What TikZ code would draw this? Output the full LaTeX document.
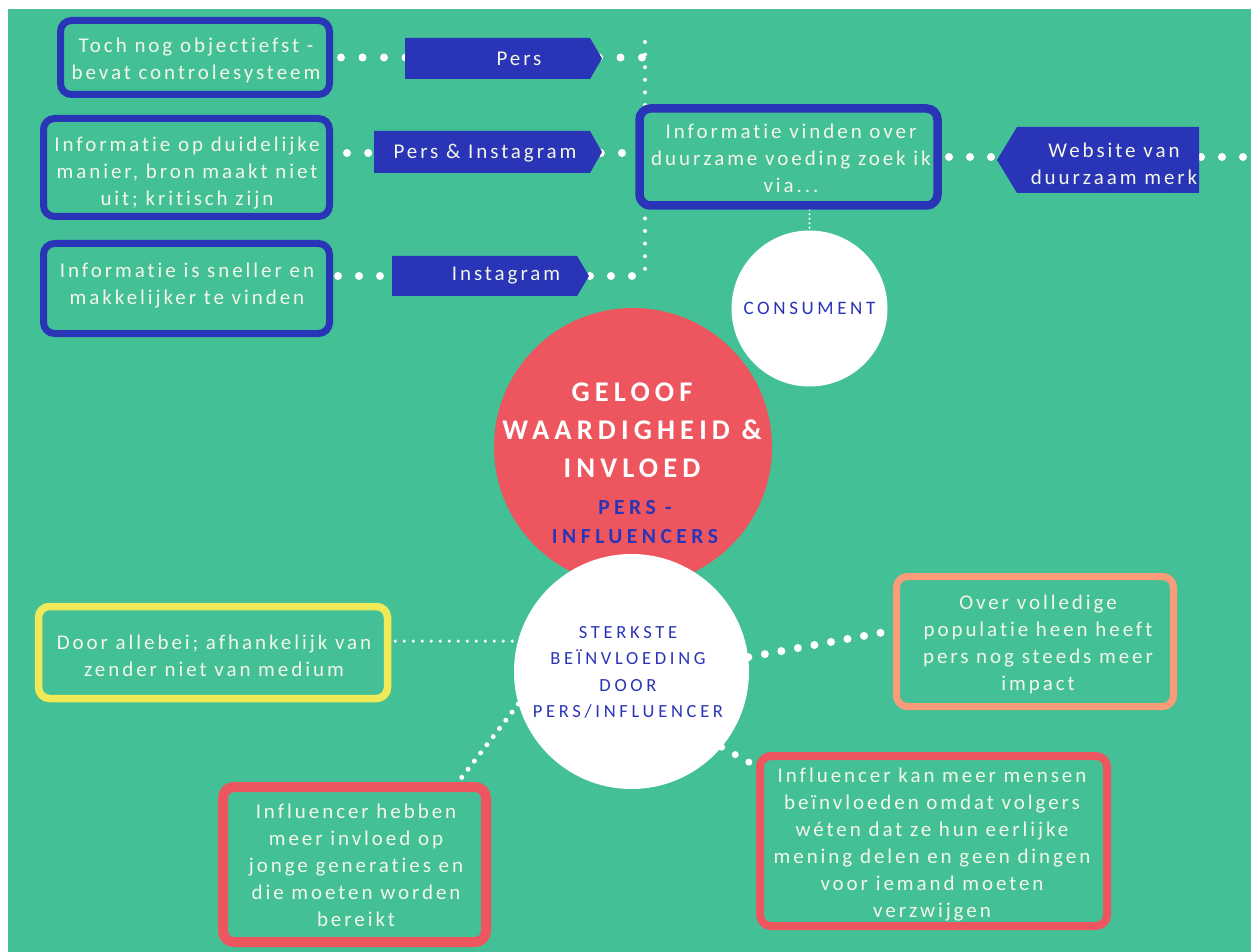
\documentclass[tikz,border=0pt]{standalone}
\usepackage{fontspec}
\setmainfont{Carlito}[Ligatures=CommonOff]
\usetikzlibrary{calc}
\newfontfamily\spacedfont[LetterSpace=14,Ligatures=CommonOff]{Carlito}
\newfontfamily\widefont[LetterSpace=20,Ligatures=CommonOff]{Carlito}
\newfontfamily\titlefont[LetterSpace=18,Ligatures=CommonOff]{Carlito}
\newfontfamily\subfont[LetterSpace=21,Ligatures=CommonOff]{Carlito}
\newfontfamily\consfont[LetterSpace=19,Ligatures=CommonOff]{Carlito}

\definecolor{bggreen}{RGB}{67,192,150}
\definecolor{navy}{RGB}{42,52,183}
\definecolor{coral}{RGB}{238,86,95}
\definecolor{lemon}{RGB}{240,233,88}
\definecolor{salmon}{RGB}{250,156,121}
\definecolor{cream}{RGB}{243,247,232}

\pgfdeclarelayer{bg}
\pgfdeclarelayer{links}
\pgfsetlayers{bg,links,main}

\tikzset{
  infobox/.style={draw, line width=7pt, rounded corners=11pt, fill=bggreen, inner sep=0pt},
  boxtext/.style={text=cream, align=center, inner sep=0pt,
    font={\spacedfont\fontsize{21}{27}\selectfont}},
  tab/.style={fill=navy},
  bigdots/.style={draw=white, line width=8pt, line cap=round, dash pattern=on 0pt off 21pt},
  middots/.style={draw=white, line width=5pt, line cap=round, dash pattern=on 0pt off 10.3pt},
  smalldots/.style={draw=white, line width=4pt, line cap=round, dash pattern=on 0pt off 12.6pt},
  finedots/.style={draw=white, line width=3.5pt, line cap=round, dash pattern=on 0pt off 9pt},
  tinydots/.style={draw=white, line width=2.2pt, line cap=round, dash pattern=on 0pt off 4.5pt},
  disc/.style={circle, inner sep=0pt, align=center},
}

\begin{document}
\begin{tikzpicture}[x=1pt,y=-1pt]
\useasboundingbox (0,0) rectangle (1251,952);
\begin{pgfonlayer}{bg}
  \fill[white] (0,0) rectangle (1251,952);
  \fill[bggreen] (8,9) rectangle (1251,952);
\end{pgfonlayer}

% --- top: where information is found ---
\node[infobox, draw=navy, minimum width=269pt, minimum height=74pt] (objectief) at (195,57.5) {};
\node[boxtext] (objectieftekst) at (196,60.5) {Toch nog objectiefst -\\bevat controlesysteem};
\node[infobox, draw=navy, minimum width=286pt, minimum height=98pt] (duidelijk) at (186.5,167.5) {};
\node[boxtext] (duidelijktekst) at (187,173) {Informatie op duidelijke\\manier, bron maakt niet\\uit; kritisch zijn};
\node[infobox, draw=navy, minimum width=286pt, minimum height=90pt] (sneller) at (186.5,288.5) {};
\node[boxtext] (snellertekst) at (187,285.5) {Informatie is sneller en\\makkelijker te vinden};
\node[infobox, draw=navy, line width=8.5pt, minimum width=298pt, minimum height=97pt] (zoek) at (788.5,157) {};
\node[boxtext] (zoektekst) at (791,158) {Informatie vinden over\\duurzame voeding zoek ik\\via...};

% media tabs
\fill[tab] (405,38) -- (590,38) -- (602,58.5) -- (590,79) -- (405,79) -- cycle;
\node[boxtext] (pers) at (519,58.5) {Pers};
\fill[tab] (374,131) -- (590,131) -- (602,152) -- (590,173) -- (374,173) -- cycle;
\node[boxtext] (persinsta) at (485,153) {Pers \& Instagram};
\fill[tab] (392,256) -- (577,256) -- (589,276) -- (577,296) -- (392,296) -- cycle;
\node[boxtext] (insta) at (506,276) {Instagram};
\fill[tab] (997,160) -- (1017,127) -- (1199,127) -- (1199,193) -- (1017,193) -- cycle;
\node[boxtext] (website) at (1114,164) {Website van\\duurzaam merk};

% --- centre circles ---
\node[disc, fill=coral, minimum size=278pt] (geloof) at (633,447) {};
\node[text=white, align=center, inner sep=0pt,
  font={\titlefont\bfseries\fontsize{28.5}{38}\selectfont}] (titel) at (632,430)
  {GELOOF\\WAARDIGHEID \&\\INVLOED};
\node[text=navy, align=center, inner sep=0pt,
  font={\subfont\bfseries\fontsize{21.5}{29}\selectfont}] (sub) at (635,522.5)
  {PERS -\\INFLUENCERS};
\node[disc, fill=white, minimum size=156pt, text=navy,
  font={\consfont\fontsize{19}{22}\selectfont}] (consument) at (809.5,308.5) {CONSUMENT};
\node[disc, fill=white, minimum size=235pt] (sterkste) at (631.5,671.5) {};
\node[text=navy, align=center, inner sep=0pt,
  font={\widefont\fontsize{18.5}{26.3}\selectfont}] (sterkstetekst) at (628,672.5)
  {STERKSTE\\BEÏNVLOEDING\\DOOR\\PERS/INFLUENCER};

% --- bottom: opinions ---
\node[infobox, draw=lemon, line width=7.5pt, minimum width=349pt, minimum height=92pt] (allebei) at (213,652.5) {};
\node[boxtext] (allebeitekst) at (214,655.5) {Door allebei; afhankelijk van\\zender niet van medium};
\node[infobox, draw=coral, line width=10pt, minimum width=263pt, minimum height=155pt] (jong) at (354.5,864.5) {};
\node[boxtext] (jongtekst) at (356,865.5) {Influencer hebben\\meer invloed op\\jonge generaties en\\die moeten worden\\bereikt};
\node[infobox, draw=salmon, minimum width=277pt, minimum height=130pt] (populatie) at (1035,641.5) {};
\node[boxtext] (populatietekst) at (1038,644.5) {Over volledige\\populatie heen heeft\\pers nog steeds meer\\impact};
\node[infobox, draw=coral, line width=8pt, minimum width=347pt, minimum height=170pt] (eerlijk) at (933.5,841) {};
\node[boxtext] (eerlijktekst) at (932,844.5) {Influencer kan meer mensen\\beïnvloeden omdat volgers\\wéten dat ze hun eerlijke\\mening delen en geen dingen\\voor iemand moeten\\verzwijgen};

% --- dotted connectors, behind everything ---
\begin{pgfonlayer}{links}
  \coordinate (bovenhoek) at (645,42);
  \coordinate (onderhoek) at (645,271);
  \coordinate (persrij) at (643,57.5);
  \coordinate (midrij) at (623,153);
  \coordinate (onderrij) at (633,276);
  \coordinate (rand) at (1244,157);
  \draw[smalldots] (bovenhoek) -- (onderhoek);
  \draw[bigdots, dash pattern=on 0pt off 21.5pt, shorten <=8pt] (objectief.east) -- (persrij);
  \draw[bigdots, dash pattern=on 0pt off 21.15pt, shorten <=14pt] (duidelijk.east |- midrij) -- (midrij);
  \draw[bigdots, shorten <=5pt] (sneller.east |- onderrij) -- (onderrij);
  \draw[bigdots, shorten <=7.25pt] (zoek.east) -- (rand);
  \draw[tinydots] (consument.north |- zoek.south) -- (consument.north);
  \draw[finedots, shorten <=4pt] (allebei.east |- sterkste.165) -- (sterkste.165);
  \draw[middots] (sterkste.196) -- ($(jong.north west)!0.88!(jong.north east)$);
  \draw[bigdots, dash pattern=on 0pt off 16.8pt] (sterkste.7) -- ($(populatie.north west)!0.42!(populatie.south west)$);
  \draw[bigdots, line width=7pt, dash pattern=on 0pt off 15.5pt] (sterkste.-40) -- ($(eerlijk.north west)+(0,14)$);
\end{pgfonlayer}
\end{tikzpicture}
\end{document}
